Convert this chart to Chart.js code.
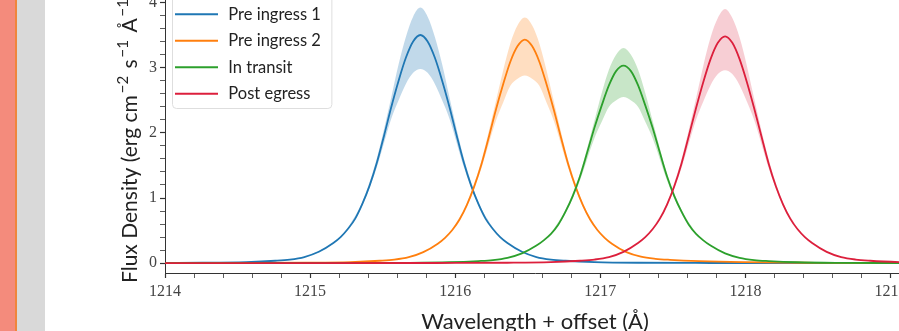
<!DOCTYPE html>
<html>
<head>
<meta charset="utf-8">
<script src="https://cdn.jsdelivr.net/npm/chart.js@4.4.1/dist/chart.umd.min.js"></script>
<style>
  html, body { margin: 0; padding: 0; width: 899px; height: 331px; overflow: hidden; background: #fff; }
  body { position: relative; }
  #stripe { position: absolute; left: 0; top: 0; width: 15px; height: 331px; background: #f48b7c; }
  #edge { position: absolute; left: 15px; top: 0; width: 2px; height: 331px; background: #f0853c; }
  #gutter { position: absolute; left: 17px; top: 0; width: 28px; height: 331px; background: #d9d9d9; }
  #wrap { position: absolute; left: 45px; top: -20px; }
</style>
</head>
<body>
<div id="stripe"></div><div id="edge"></div><div id="gutter"></div>
<div id="wrap"><canvas id="chart" width="870" height="360"></canvas></div>
<script>
// series (flux in erg cm^-2 s^-1 A^-1, wavelength in A)
const seriesNames = ['Pre ingress 1', 'Pre ingress 2', 'In transit', 'Post egress'];
const lineColors = ['#1f77b4', '#ff7f0e', '#2ca02c', '#dc1f3c'];
const bandColors = ['rgba(31,119,180,0.28)', 'rgba(255,127,14,0.26)', 'rgba(44,160,44,0.26)', 'rgba(220,31,60,0.22)'];

const pre1Wave = [1214.00, 1214.26, 1214.56, 1214.76, 1214.86, 1214.96, 1215.06, 1215.16, 1215.21, 1215.26,
  1215.31, 1215.36, 1215.41, 1215.46, 1215.51, 1215.56, 1215.61, 1215.66, 1215.71, 1215.76,
  1215.81, 1215.86, 1215.91, 1215.96, 1216.01, 1216.06, 1216.11, 1216.16, 1216.21, 1216.26,
  1216.31, 1216.36, 1216.46, 1216.56, 1216.66, 1216.76, 1216.96, 1217.26, 1217.76, 1219.10];
const pre1Flux = [0.004, 0.007, 0.018, 0.038, 0.056, 0.095, 0.175, 0.31, 0.40, 0.525,
  0.68, 0.91, 1.19, 1.54, 1.96, 2.40, 2.80, 3.15, 3.40, 3.50,
  3.40, 3.15, 2.80, 2.40, 1.96, 1.54, 1.19, 0.91, 0.68, 0.525,
  0.40, 0.31, 0.175, 0.095, 0.056, 0.038, 0.018, 0.007, 0.0035, 0.001];

const pre2Wave = [1214.00, 1214.48, 1214.98, 1215.28, 1215.48, 1215.58, 1215.68, 1215.78, 1215.88, 1215.93,
  1215.98, 1216.03, 1216.08, 1216.13, 1216.18, 1216.23, 1216.28, 1216.33, 1216.38, 1216.43, 1216.48,
  1216.53, 1216.58, 1216.63, 1216.68, 1216.73, 1216.78, 1216.83, 1216.88, 1216.93, 1216.98,
  1217.03, 1217.08, 1217.18, 1217.28, 1217.38, 1217.48, 1217.68, 1217.98, 1218.48, 1219.10];
const pre2Flux = [0.002, 0.0034, 0.007, 0.017, 0.038, 0.055, 0.093, 0.17, 0.30, 0.39,
  0.51, 0.67, 0.89, 1.17, 1.51, 1.92, 2.35, 2.74, 3.09, 3.33, 3.43,
  3.33, 3.09, 2.74, 2.35, 1.92, 1.51, 1.17, 0.89, 0.67, 0.51,
  0.39, 0.30, 0.17, 0.10, 0.068, 0.052, 0.032, 0.016, 0.006, 0.002];

const transitWave = [1214.00, 1215.16, 1215.66, 1215.96, 1216.16, 1216.26, 1216.36, 1216.46, 1216.56, 1216.61,
  1216.66, 1216.71, 1216.76, 1216.81, 1216.86, 1216.91, 1216.96, 1217.01, 1217.06, 1217.11, 1217.16,
  1217.21, 1217.26, 1217.31, 1217.36, 1217.41, 1217.46, 1217.51, 1217.56, 1217.61, 1217.66,
  1217.71, 1217.76, 1217.86, 1217.96, 1218.06, 1218.16, 1218.36, 1218.66, 1219.10];
const transitFlux = [0.001, 0.003, 0.006, 0.015, 0.033, 0.048, 0.082, 0.15, 0.27, 0.35,
  0.45, 0.59, 0.79, 1.03, 1.33, 1.70, 2.08, 2.42, 2.73, 2.95, 3.03,
  2.95, 2.73, 2.42, 2.08, 1.70, 1.33, 1.03, 0.79, 0.59, 0.45,
  0.35, 0.27, 0.15, 0.082, 0.048, 0.033, 0.015, 0.006, 0.003];

const postWave = [1214.00, 1215.86, 1216.36, 1216.66, 1216.86, 1216.96, 1217.06, 1217.16, 1217.26, 1217.31,
  1217.36, 1217.41, 1217.46, 1217.51, 1217.56, 1217.61, 1217.66, 1217.71, 1217.76, 1217.81, 1217.86,
  1217.91, 1217.96, 1218.01, 1218.06, 1218.11, 1218.16, 1218.21, 1218.26, 1218.31, 1218.36,
  1218.41, 1218.46, 1218.56, 1218.66, 1218.76, 1218.86, 1219.06, 1219.10];
const postFlux = [0.001, 0.0035, 0.007, 0.017, 0.038, 0.056, 0.094, 0.174, 0.31, 0.40,
  0.52, 0.68, 0.90, 1.18, 1.53, 1.95, 2.38, 2.78, 3.13, 3.38, 3.48,
  3.38, 3.13, 2.78, 2.38, 1.95, 1.53, 1.18, 0.90, 0.68, 0.52,
  0.40, 0.31, 0.174, 0.094, 0.056, 0.038, 0.017, 0.015];

// uncertainty bands around each peak
const pre1BandWave = [1215.26, 1215.36, 1215.46, 1215.56, 1215.61, 1215.66, 1215.71, 1215.76, 1215.81, 1215.86, 1215.91, 1215.96, 1216.06, 1216.16, 1216.26];
const pre1Upper = [0.54, 0.94, 1.61, 2.55, 3.05, 3.47, 3.78, 3.92, 3.78, 3.47, 3.05, 2.55, 1.61, 0.94, 0.54];
const pre1Lower = [0.51, 0.88, 1.47, 2.22, 2.50, 2.75, 2.92, 2.98, 2.92, 2.75, 2.50, 2.22, 1.47, 0.88, 0.51];

const pre2BandWave = [1215.98, 1216.08, 1216.18, 1216.28, 1216.33, 1216.38, 1216.43, 1216.48, 1216.53, 1216.58, 1216.63, 1216.68, 1216.78, 1216.88, 1216.98];
const pre2Upper = [0.52, 0.92, 1.57, 2.48, 2.95, 3.37, 3.65, 3.77, 3.65, 3.37, 2.95, 2.48, 1.57, 0.92, 0.52];
const pre2Lower = [0.50, 0.86, 1.45, 2.18, 2.46, 2.72, 2.83, 2.88, 2.83, 2.72, 2.46, 2.18, 1.45, 0.86, 0.50];

const transitBandWave = [1216.66, 1216.76, 1216.86, 1216.96, 1217.01, 1217.06, 1217.11, 1217.16, 1217.21, 1217.26, 1217.31, 1217.36, 1217.46, 1217.56, 1217.66];
const transitUpper = [0.46, 0.82, 1.38, 2.19, 2.61, 2.97, 3.20, 3.30, 3.20, 2.97, 2.61, 2.19, 1.38, 0.82, 0.46];
const transitLower = [0.44, 0.76, 1.27, 1.92, 2.17, 2.40, 2.50, 2.55, 2.50, 2.40, 2.17, 1.92, 1.27, 0.76, 0.44];

const postBandWave = [1217.36, 1217.46, 1217.56, 1217.66, 1217.71, 1217.76, 1217.81, 1217.86, 1217.91, 1217.96, 1218.01, 1218.06, 1218.16, 1218.26, 1218.36];
const postUpper = [0.53, 0.93, 1.60, 2.53, 3.03, 3.46, 3.76, 3.90, 3.76, 3.46, 3.03, 2.53, 1.60, 0.93, 0.53];
const postLower = [0.51, 0.87, 1.46, 2.20, 2.48, 2.73, 2.90, 2.96, 2.90, 2.73, 2.48, 2.20, 1.46, 0.87, 0.51];

const xTitle = 'Wavelength + offset (Å)';
// y title pieces: [text, superscript?]
const yTitleParts = [['Flux Density (erg cm', false], ['−2', true], [' s', false], ['−1', true], [' Å', false], ['−1', true], [')', false]];

const lines = [[pre1Wave, pre1Flux], [pre2Wave, pre2Flux], [transitWave, transitFlux], [postWave, postFlux]];
const bands = [[pre1BandWave, pre1Upper, pre1Lower], [pre2BandWave, pre2Upper, pre2Lower],
  [transitBandWave, transitUpper, transitLower], [postBandWave, postUpper, postLower]];

const toPoints = (xs, ys) => xs.map((x, i) => ({ x, y: ys[i] }));

const datasets = [];
seriesNames.forEach((name, i) => {
    const [bw, up, lo] = bands[i];
    datasets.push({ label: name + ' hi', data: toPoints(bw, up), borderWidth: 0, pointRadius: 0,
        backgroundColor: bandColors[i], fill: '+1', order: 10, cubicInterpolationMode: 'monotone' });
    datasets.push({ label: name + ' lo', data: toPoints(bw, lo), borderWidth: 0, pointRadius: 0,
        backgroundColor: bandColors[i], fill: false, order: 10, cubicInterpolationMode: 'monotone' });
    const [w, f] = lines[i];
    // later series sit on top, as in the original plot
    datasets.push({ label: name, data: toPoints(w, f), borderColor: lineColors[i], borderWidth: 1.8,
        pointRadius: 0, fill: false, order: 4 - i, cubicInterpolationMode: 'monotone' });
});

const isWhole = v => Math.abs(v - Math.round(v)) < 1e-6;

// matplotlib-like legend frame, sized from the legend's own hit boxes
const legendFrame = {
    id: 'legendFrame',
    beforeDraw(chart) {
        const lg = chart.legend;
        if (!lg || !lg.legendHitBoxes || !lg.legendHitBoxes.length) return;
        const boxes = lg.legendHitBoxes;
        const area = chart.chartArea;
        const last = boxes[boxes.length - 1];
        const right = Math.max(...boxes.map(b => b.left + b.width)) + 11;
        const left = area.left + 7.5;
        const top = area.top - 10;
        const bottom = last.top + last.height + 6.5;
        const ctx = chart.ctx;
        ctx.save();
        ctx.fillStyle = 'rgba(255,255,255,0.85)';
        ctx.strokeStyle = '#dedede';
        ctx.lineWidth = 1;
        ctx.beginPath();
        ctx.roundRect(left, top, right - left, bottom - top, 4);
        ctx.fill();
        ctx.stroke();
        ctx.restore();
    }
};

// y axis label with raised exponents, started just below the axis corner
const yTitlePlugin = {
    id: 'yTitle',
    afterDraw(chart) {
        const { ctx, chartArea } = chart;
        ctx.save();
        ctx.translate(chartArea.left - 28, chartArea.bottom + 10);
        ctx.rotate(-Math.PI / 2);
        ctx.fillStyle = '#222';
        ctx.textBaseline = 'alphabetic';
        ctx.textAlign = 'left';
        let pos = 0;
        yTitleParts.forEach(([txt, sup]) => {
            ctx.font = sup ? '15px Lato' : '21px Lato';
            ctx.fillText(txt, pos + (sup ? 2 : 0), sup ? -9 : 0);
            pos += ctx.measureText(txt).width + (sup ? 4 : 0);
        });
        ctx.restore();
    }
};

const tickFont = { family: '"Liberation Serif", "DejaVu Serif", serif', size: 16 };
const legendFont = { family: 'Lato, "Open Sans", sans-serif', size: 16.5 };

new Chart(document.getElementById('chart'), {
    type: 'line',
    data: { datasets },
    plugins: [legendFrame, yTitlePlugin],
    options: {
        responsive: false,
        animation: false,
        layout: { padding: { top: 8, right: 10, left: 0, bottom: 0 } },
        plugins: {
            tooltip: { enabled: false },
            legend: {
                position: 'chartArea',
                align: 'start',
                title: { display: true, text: ' ', font: { size: 10 }, padding: { top: 4, bottom: 0 } },
                labels: {
                    boxWidth: 43,
                    boxHeight: 2,
                    padding: 10,
                    color: '#222',
                    font: legendFont,
                    generateLabels: () => seriesNames.map((name, i) => ({
                        text: '\u2009' + name, fillStyle: lineColors[i], strokeStyle: lineColors[i],
                        lineWidth: 0, hidden: false, datasetIndex: i * 3 + 2, fontColor: '#222'
                    }))
                }
            }
        },
        scales: {
            x: {
                type: 'linear', min: 1214, max: 1219.1,
                afterFit: s => { s.height = 67; },
                border: { display: true, color: '#333', width: 1 },
                grid: { drawOnChartArea: false, tickLength: 5, tickColor: '#333',
                    tickWidth: c => (c.tick && isWhole(c.tick.value)) ? 1.2 : 0.8 },
                ticks: { stepSize: 0.2, includeBounds: false, autoSkip: false, maxRotation: 0, padding: 4,
                    color: '#444', font: tickFont,
                    callback: v => isWhole(v) ? String(Math.round(v)) : '' },
                title: { display: true, text: xTitle, color: '#222',
                    font: { family: 'Lato, "Open Sans", sans-serif', size: 22 }, padding: { top: 0, bottom: 5 } }
            },
            y: {
                type: 'linear', min: -0.15, max: 4.15,
                afterFit: s => { s.width = 120; },
                border: { display: true, color: '#333', width: 1 },
                grid: { drawOnChartArea: false, tickLength: 5, tickColor: '#333',
                    tickWidth: c => (c.tick && isWhole(c.tick.value)) ? 1.2 : 0.8 },
                ticks: { stepSize: 0.2, includeBounds: false, autoSkip: false, padding: 3,
                    color: '#444', font: tickFont,
                    callback: v => isWhole(v) ? String(Math.round(v)) : '' },
                title: { display: false }
            }
        }
    }
});
</script>
</body>
</html>
